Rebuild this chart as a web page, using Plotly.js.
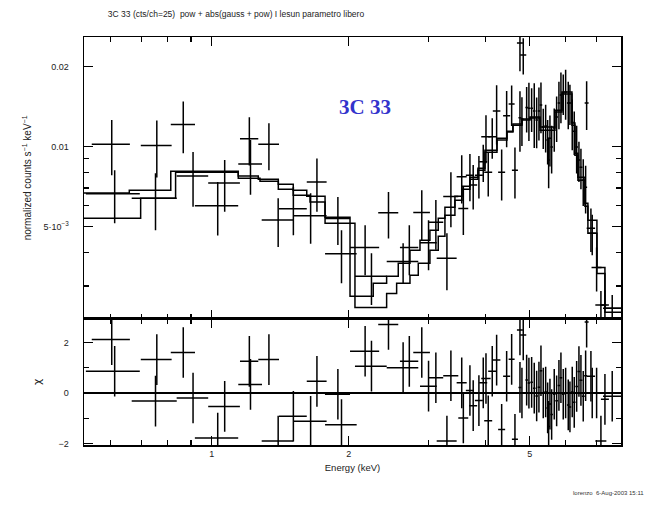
<!DOCTYPE html>
<html><head><meta charset="utf-8">
<script src="https://cdn.plot.ly/plotly-3.0.1.min.js"></script>
<style>html,body{margin:0;padding:0;background:#fff}</style>
</head><body><div id="chart" style="width:653px;height:515px"></div>
<script>
// ---- data points (keV, normalized counts s^-1 keV^-1, delta chi) ----
const energy = [0.603,0.612,0.7575,0.7525,0.866,0.910,1.068,1.031,1.21,1.217,1.336,1.40,1.512,1.65,1.7035,1.894,1.929,2.174,2.245,2.447,2.635,2.719,2.896,2.997,3.11,3.289,3.356,3.545,3.574,
  3.695,3.757,3.867,3.953,4.008,4.054,4.137,4.230,4.339,4.450,4.564,4.641,4.760,4.840,4.760,4.808,4.924,4.981,5.050,5.117,5.180,5.240,5.294,5.356,5.421,5.476,5.504,5.540,5.588,5.662,5.731,5.798,5.857,5.926,5.998,6.078,6.130,6.202,6.265,6.342,6.416,6.481,6.557,6.637,6.671,6.817,6.862,7.016,7.171,7.318,7.593];
const energyHalfWidth = [0.058,0.083,0.059,0.0854,0.053,0.0725,0.0855,0.1126,0.056,0.073,0.07,0.112,0.106,0.139,0.0855,0.12,0.154,0.16,0.18,0.124,0.21,0.126,0.122,0.127,0.118,0.166,0.128,0.09,0.09,
  0.075,0.076,0.078,0.080,0.095,0.082,0.084,0.081,0.077,0.079,0.069,0.071,0.072,0.074,0.036,0.037,0.032,0.033,0.033,0.034,0.034,0.034,0.035,0.035,0.036,0.036,0.036,0.036,0.037,0.037,0.038,0.038,0.039,0.039,0.039,0.040,0.040,0.041,0.041,0.042,0.049,0.049,0.050,0.050,0.067,0.145,0.139,0.178,0.2,0.148,0.346];
const flux = [0.0102,0.00666,0.0101,0.0064,0.0121,0.00775,0.0073,0.0060,0.0107,0.0086,0.0102,0.0053,0.00585,0.0055,0.00736,0.00537,0.00396,0.00418,0.00326,0.00564,0.0037,0.00418,0.00566,0.00436,0.0052,0.00381,0.0065,0.0077,0.00586,
  0.00781,0.00717,0.00781,0.00877,0.01089,0.00802,0.01089,0.01360,0.00802,0.01305,0.01445,0.00816,0.02449,0.02208,0.01285,0.01269,0.01402,0.01395,0.01395,0.01360,0.01258,0.01360,0.01432,0.01184,0.01194,0.01058,0.00890,0.01076,0.00996,0.01174,0.01291,0.01457,0.01562,0.01589,0.01603,0.01457,0.01457,0.01236,0.01143,0.00996,0.00890,0.00837,0.00748,0.00704,0.01457,0.00494,0.00473,0.00352,0.00254,0.00254,0.00247];
const fluxErr = [0.0024,0.0015,0.00244,0.00155,0.00266,0.0018,0.0016,0.00136,0.0022,0.0020,0.00205,0.0011,0.0012,0.00118,0.00167,0.0011,0.00089,0.00089,0.00072,0.00112,0.00064,0.00089,0.0012,0.00093,0.0011,0.00092,0.00152,0.00158,0.0012,
  0.00158,0.00137,0.00142,0.00140,0.00222,0.00153,0.00189,0.00341,0.00174,0.00311,0.00250,0.00177,0.00530,0.00344,0.00328,0.00264,0.00273,0.00344,0.00260,0.00371,0.00272,0.00306,0.00310,0.00205,0.00243,0.00201,0.00193,0.00233,0.00203,0.00218,0.00251,0.00296,0.00338,0.00275,0.00340,0.00296,0.00252,0.00267,0.00213,0.00203,0.00154,0.00145,0.00149,0.00143,0.00303,0.00092,0.00082,0.00066,0.00033,0.00035,0.00030];
const delchi = [2.11,0.86,1.32,-0.32,1.6,-0.2,-0.53,-1.78,1.25,0.34,1.32,-1.9,-0.92,-1.12,0.46,-0.05,-1.25,1.65,1.06,2.71,1.0,1.25,1.6,0.27,0.6,-1.9,0.68,0.4,-0.99,
  0.1,-0.5,-0.3,0.4,0.57,-1.1,0.86,1.3,-1.44,0.66,1.33,-1.83,2.49,2.29,0.22,0.0,0.51,0.39,0.42,0.19,-0.12,0.23,0.88,0.0,0.04,-0.59,-1.32,-0.44,-0.85,-0.05,-0.31,0.3,0.6,-0.05,0.0,-0.47,-0.55,0.04,-0.37,0.26,0.85,0.5,-0.13,0.68,2.8,0.66,0.0,0.0,-1.9,-0.25,-0.13];

// ---- folded models (bin edges in keV, values per bin) ----
const modelAEdges = [0.524,0.659,0.813,1.144,1.266,1.401,1.511,1.618,1.775,2.014,2.265,2.424,2.571,2.728,2.870,3.018,3.148,3.256,3.425,3.549,3.695,3.848,3.987,4.237,4.457,4.594,4.808,5.007,5.267,5.682,5.887,6.193,6.287,6.383,6.613,6.714,7.027,7.318,7.938];
const modelAValues = [0.00669,0.00686,0.00809,0.00775,0.00755,0.00723,0.00686,0.00651,0.00543,0.00274,0.00307,0.00326,0.00365,0.00408,0.00445,0.00485,0.00538,0.00592,0.00651,0.00710,0.00768,0.00830,0.00970,0.01076,0.01143,0.01215,0.01269,0.01291,0.01184,0.01371,0.01603,0.01226,0.00945,0.00768,0.00613,0.00529,0.00352,0.00247];
const modelBEdges = [0.524,0.698,0.833,1.144,1.277,1.401,1.511,1.645,1.775,2.065,2.424,2.550,2.728,2.845,3.018,3.148,3.256,3.425,3.549,3.695,3.848,3.987,4.237,4.457,4.594,4.808,5.007,5.267,5.682,5.887,6.193,6.287,6.383,6.613,6.714,7.027,7.318,7.938];
const modelBValues = [0.00538,0.00640,0.00802,0.00761,0.00742,0.00692,0.00657,0.00619,0.00516,0.00249,0.00281,0.00307,0.00329,0.00365,0.00408,0.00461,0.00553,0.00629,0.00692,0.00755,0.00816,0.00953,0.01058,0.01134,0.01204,0.01258,0.01280,0.01153,0.01348,0.01576,0.01204,0.00929,0.00748,0.00597,0.00473,0.00334,0.00239];

// ---- tick labels ----
const xTickVals = [1, 2, 5];
const xTickText = ['1', '2', '5'];
const xMinorVals = [0.6, 0.7, 0.8, 0.9, 3, 4, 6, 7];
const fluxTickVals = [0.005, 0.01, 0.02];
const fluxTickText = ['5\u00b710<sup>\u22123</sup>', '0.01', '0.02'];
const fluxMinorVals = [0.003, 0.004, 0.006, 0.007, 0.008, 0.009];
const chiTickVals = [-2, 0, 2];
const chiTickText = ['\u22122', '0', '2'];
const chiMinorVals = [-1, 1];

const stepY = v => v.concat([v[v.length - 1]]);
const LW = 1.5;
const FONT = 'Liberation Sans, Arial, sans-serif';
const tickFont = {family: FONT, size: 9, color: '#222'};

const traces = [
  {x: modelAEdges, y: stepY(modelAValues), xaxis: 'x2', yaxis: 'y2', mode: 'lines',
   line: {shape: 'hv', color: '#000', width: LW}, hoverinfo: 'skip'},
  {x: modelBEdges, y: stepY(modelBValues), xaxis: 'x2', yaxis: 'y2', mode: 'lines',
   line: {shape: 'hv', color: '#000', width: LW}, hoverinfo: 'skip'},
  {x: energy, y: flux, xaxis: 'x2', yaxis: 'y2', mode: 'markers',
   marker: {size: 1, color: '#000'},
   error_x: {type: 'data', array: energyHalfWidth, color: '#000', thickness: LW, width: 0},
   error_y: {type: 'data', array: fluxErr, color: '#000', thickness: LW, width: 0}},
  {x: energy, y: delchi, xaxis: 'x', yaxis: 'y', mode: 'markers',
   marker: {size: 1, color: '#000'},
   error_x: {type: 'data', array: energyHalfWidth, color: '#000', thickness: LW, width: 0},
   error_y: {type: 'constant', value: 1, color: '#000', thickness: LW, width: 0}}
];

const xCommon = {
  type: 'log', range: [Math.log10(0.524), Math.log10(7.938)],
  showline: true, linecolor: '#000', linewidth: LW, mirror: 'ticks',
  ticks: 'inside', ticklen: 9, tickwidth: 1.3, tickcolor: '#000',
  tickvals: xTickVals, ticktext: xTickText, showgrid: false, zeroline: false,
  minor: {tickvals: xMinorVals, ticks: 'inside', ticklen: 5, tickwidth: 1.3, tickcolor: '#000', showgrid: false},
  tickfont: tickFont
};

const layout = {
  width: 653, height: 515,
  margin: {l: 84, r: 32, t: 37, b: 70},
  paper_bgcolor: '#fff', plot_bgcolor: '#fff',
  showlegend: false,
  title: {text: '3C 33 (cts/ch=25)  pow + abs(gauss + pow) I lesun parametro libero',
          x: 236 / 653, xanchor: 'center', y: 1 - 14 / 515, yanchor: 'middle',
          font: {family: FONT, size: 8.5, color: '#222'}},
  xaxis: Object.assign({}, xCommon, {domain: [0, 1], anchor: 'y',
    title: {text: 'Energy (keV)', font: {family: FONT, size: 9.5, color: '#222'}, standoff: 6}}),
  xaxis2: Object.assign({}, xCommon, {domain: [0, 1], anchor: 'y2', matches: 'x', showticklabels: false}),
  yaxis: {domain: [0, 0.3093], anchor: 'x', range: [-2.055, 2.93],
    showline: true, linecolor: '#000', linewidth: LW, mirror: 'ticks',
    ticks: 'inside', ticklen: 9, tickwidth: 1.3, tickcolor: '#000',
    tickvals: chiTickVals, ticktext: chiTickText, showgrid: false,
    zeroline: true, zerolinecolor: '#000', zerolinewidth: LW,
    minor: {tickvals: chiMinorVals, ticks: 'inside', ticklen: 5, tickwidth: 1.3, tickcolor: '#000', showgrid: false},
    tickfont: tickFont, ticklabelstandoff: 12,
    title: {text: '\u03c7', font: {family: 'DejaVu Sans, sans-serif', size: 11, color: '#222'}, standoff: 14}},
  yaxis2: {domain: [0.3093, 1], anchor: 'x2', type: 'log', range: [-2.6466, -1.5883],
    showline: true, linecolor: '#000', linewidth: LW, mirror: 'ticks',
    ticks: 'inside', ticklen: 9, tickwidth: 1.3, tickcolor: '#000',
    tickvals: fluxTickVals, ticktext: fluxTickText, showgrid: false, zeroline: false,
    minor: {tickvals: fluxMinorVals, ticks: 'inside', ticklen: 5, tickwidth: 1.3, tickcolor: '#000', showgrid: false},
    tickfont: tickFont, ticklabelstandoff: 12,
    title: {text: 'normalized counts s<sup>\u22121</sup> keV<sup>\u22121</sup>', font: {family: FONT, size: 10, color: '#222'}, standoff: 10}},
  annotations: [
    {text: '<b>3C 33</b>', xref: 'paper', yref: 'paper', x: (365 - 84) / 537, y: (444.7 - 107) / 408,
     xanchor: 'center', yanchor: 'middle', showarrow: false,
     font: {family: 'Liberation Serif, Times New Roman, serif', size: 21, color: '#3333cc'}},
    {text: 'lorenzo  6-Aug-2003 15:11', xref: 'paper', yref: 'paper', x: (646 - 84) / 537, y: (444.7 - 493) / 408,
     xanchor: 'right', yanchor: 'middle', showarrow: false,
     font: {family: FONT, size: 6, color: '#333'}}
  ]
};

Plotly.newPlot('chart', traces, layout, {displayModeBar: false, staticPlot: true});
</script></body></html>
